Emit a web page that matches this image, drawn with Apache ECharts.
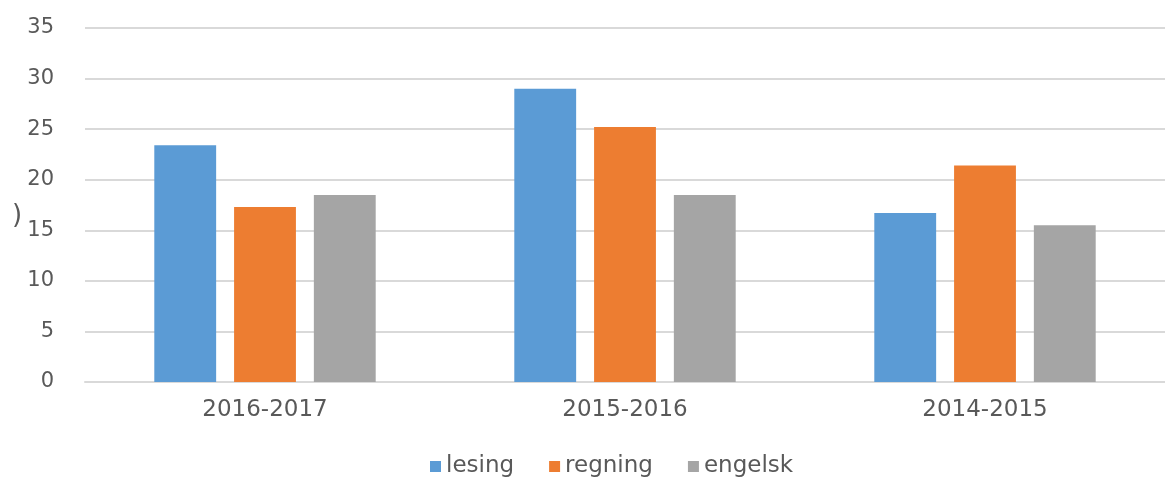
<!DOCTYPE html>
<html>
<head>
<meta charset="utf-8">
<script src="https://cdn.jsdelivr.net/npm/echarts@6/dist/echarts.min.js"></script>
<style>
html,body{margin:0;padding:0;background:#fff;}
#chart{width:1165px;height:477px;}
</style>
</head>
<body>
<div id="chart"></div>
<script>
const categories = ['2016-2017', '2015-2016', '2014-2015'];
const lesing = [23.4, 29.0, 16.7];
const regning = [17.3, 25.2, 21.4];
const engelsk = [18.5, 18.5, 15.5];
const seriesNames = ['lesing', 'regning', 'engelsk'];
const colors = ['#5B9BD5', '#ED7D31', '#A5A5A5'];

const chart = echarts.init(document.getElementById('chart'));
const font = 'DejaVu Sans';
chart.setOption({
  animation: false,
  color: colors,
  grid: { left: 85, right: -9, top: 28, bottom: 95 },
  graphic: [{
    type: 'text', left: 12, top: 203,
    style: { text: ')', font: '26px "DejaVu Sans"', fill: '#595959' }
  }],
  legend: {
    top: 450,
    left: 425,
    itemWidth: 11,
    itemHeight: 11,
    itemGap: 35,
    icon: 'rect',
    textStyle: { color: '#595959', fontSize: 23, fontFamily: font },
    data: seriesNames
  },
  xAxis: {
    type: 'category',
    data: categories,
    axisLine: { lineStyle: { color: '#d9d9d9', width: 2 } },
    axisTick: { show: false },
    axisLabel: { color: '#595959', fontSize: 23, fontFamily: font, margin: 17 }
  },
  yAxis: {
    type: 'value',
    min: 0, max: 35, interval: 5,
    axisLine: { show: false },
    axisTick: { show: false },
    splitLine: { lineStyle: { color: '#d9d9d9', width: 2 } },
    axisLabel: { color: '#595959', fontSize: 21, fontFamily: font, margin: 31 }
  },
  series: [
    { name: seriesNames[0], type: 'bar', data: lesing, barGap: '29%', barCategoryGap: '38.5%' },
    { name: seriesNames[1], type: 'bar', data: regning },
    { name: seriesNames[2], type: 'bar', data: engelsk }
  ]
});
</script>
</body>
</html>
